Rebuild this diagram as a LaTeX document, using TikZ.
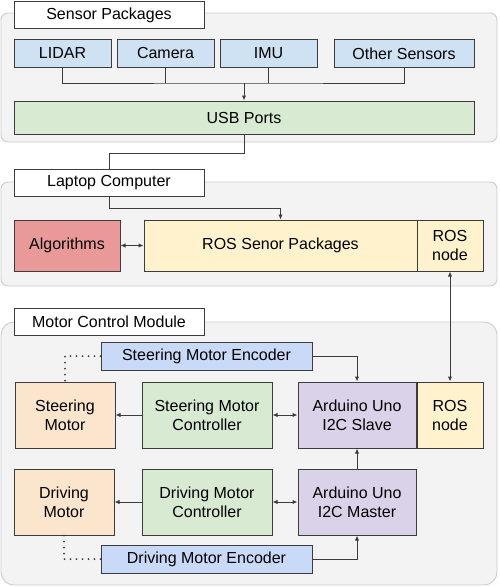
\documentclass[tikz,border=0pt]{standalone}
\usepackage{fontspec}
\setmainfont{Liberation Sans}
\usetikzlibrary{arrows.meta}
\definecolor{groupfill}{HTML}{F3F3F3}
\definecolor{groupline}{HTML}{CCCCCC}
\definecolor{boxline}{HTML}{3C3C3C}
\definecolor{sensorblue}{HTML}{CFE2F3}
\definecolor{encblue}{HTML}{C9DAF8}
\definecolor{usbgreen}{HTML}{D9EAD3}
\definecolor{algored}{HTML}{EA9999}
\definecolor{rosyellow}{HTML}{FFF2CC}
\definecolor{motororange}{HTML}{FCE5CD}
\definecolor{unopurple}{HTML}{D9D2E9}

\begin{document}
\begin{tikzpicture}[x=1pt, y=-1pt, >={Latex[length=5pt,width=4.5pt]},
  box/.style={draw=boxline, line width=1pt, inner sep=0pt, align=center, font=\fontsize{16}{19}\selectfont},
  title/.style={box, fill=white, minimum width=190pt, minimum height=27pt},
  group/.style={fill=groupfill, draw=groupline, line width=0.9pt},
  link/.style={draw=boxline, line width=1pt},
  dots/.style={draw=boxline, line width=2pt, line cap=round, dash pattern=on 0pt off 6pt}]
\useasboundingbox (0,0) rectangle (499,587);

% Group backgrounds
\path[group, rounded corners=7pt] (1,13) rectangle (497,142);
\path[group, rounded corners=7pt] (1,182) rectangle (497,286);
\path[group, rounded corners=13pt] (1,322) rectangle (497,585);

% Sensor packages
\node[box, fill=sensorblue, minimum width=97pt, minimum height=28pt] (lidar) at (62.5,53) {LIDAR};
\node[box, fill=sensorblue, minimum width=97pt, minimum height=28pt] (camera) at (165.5,53) {Camera};
\node[box, fill=sensorblue, minimum width=97pt, minimum height=28pt] (imu) at (268.5,53) {IMU};
\node[box, fill=sensorblue, minimum width=140pt, minimum height=28pt] (other) at (404,53.5) {Other Sensors};
\node[box, fill=usbgreen, minimum width=460pt, minimum height=33pt] (usb) at (244,117.5) {USB Ports};

% Laptop computer
\node[box, fill=algored, minimum width=106pt, minimum height=51pt] (algo) at (67,245.5) {Algorithms};
\node[box, fill=rosyellow, minimum width=273pt, minimum height=51pt] (rospkg) at (280.5,245.5) {ROS Senor Packages};
\node[box, fill=rosyellow, minimum width=66pt, minimum height=51pt] (rosA) at (450,245.5) {ROS\\node};

% Motor control module
\node[box, fill=encblue, minimum width=211pt, minimum height=28pt] (steerEnc) at (206.5,356) {Steering Motor Encoder};
\node[box, fill=motororange, minimum width=100pt, minimum height=66pt] (steerMot) at (65,415) {Steering\\Motor};
\node[box, fill=usbgreen, minimum width=130pt, minimum height=66pt] (steerCtl) at (207,415) {Steering Motor\\Controller};
\node[box, fill=unopurple, minimum width=118pt, minimum height=66pt] (slave) at (357,415) {Arduino Uno\\I2C Slave};
\node[box, fill=rosyellow, minimum width=66pt, minimum height=66pt] (rosB) at (450,415) {ROS\\node};
\node[box, fill=motororange, minimum width=100pt, minimum height=66pt] (driveMot) at (64,502) {Driving\\Motor};
\node[box, fill=usbgreen, minimum width=130pt, minimum height=66pt] (driveCtl) at (207,502) {Driving Motor\\Controller};
\node[box, fill=unopurple, minimum width=118pt, minimum height=66pt] (master) at (357,502) {Arduino Uno\\I2C Master};
\node[box, fill=encblue, minimum width=211pt, minimum height=28pt] (driveEnc) at (206.5,559) {Driving Motor Encoder};

% Connectors
\coordinate (bus) at (244,83);
\coordinate (bend1) at (109,153);
\coordinate (bend2) at (109,208);
\draw[link] (lidar.south) |- (bus) -| (other.south);
\draw[link] (camera.south) -- (camera.south |- bus);
\draw[link] (imu.south) -- (imu.south |- bus);
\draw[link, ->] (bus) -- (usb.north);
\draw[link, ->] (usb.south) |- (bend1) -- (bend2) -| (rospkg.north);
\draw[link, <->] (algo) -- (rospkg);
\draw[link, <->] (rosA) -- (rosB);
\draw[link, ->] (steerEnc.east) -| (slave.north);
\draw[link, ->] (steerCtl) -- (steerMot);
\draw[link, <->] (steerCtl) -- (slave);
\draw[link, ->] (master) -- (slave);
\draw[link, ->] (driveCtl) -- (driveMot);
\draw[link, <->] (driveCtl) -- (master);
\draw[link, ->] (driveEnc.east) -| (master.south);
\draw[dots] (steerEnc.west) -| (steerMot.north);
\draw[dots] (driveMot.south) |- (driveEnc.west);

% Group titles
\node[title] (sensTitle) at (109,15) {Sensor Packages};
\node[title] (lapTitle) at (109,182.5) {Laptop Computer};
\node[title] (motTitle) at (109,321.5) {Motor Control Module};
\end{tikzpicture}
\end{document}
